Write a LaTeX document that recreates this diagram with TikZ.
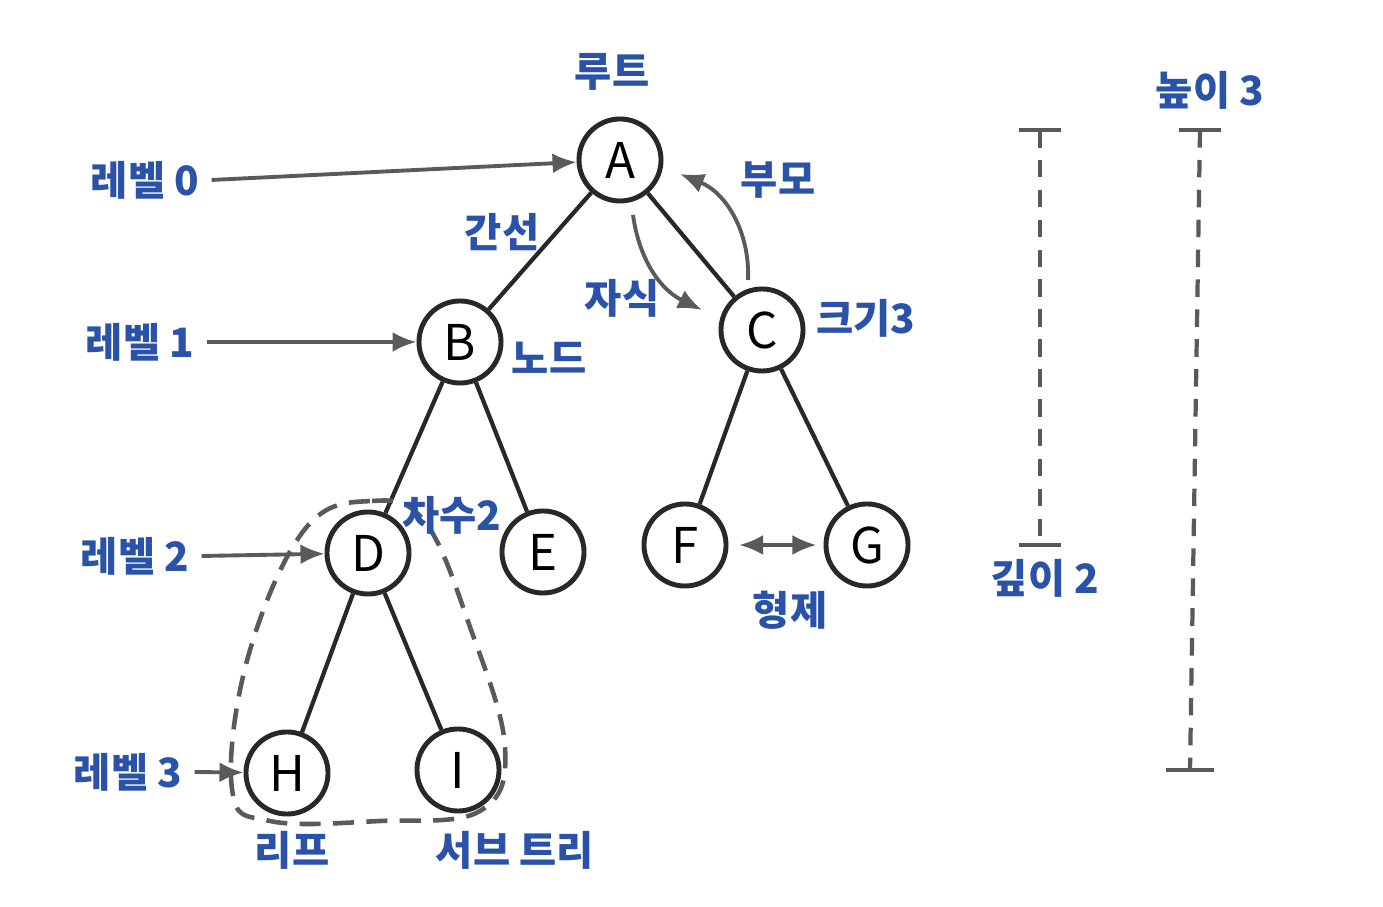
\documentclass[tikz,border=0pt]{standalone}
\usepackage{fontspec}
\setmainfont{Noto Sans CJK KR}
\usetikzlibrary{arrows.meta}
\definecolor{pen}{RGB}{40,40,40}
\definecolor{penblue}{RGB}{42,82,168}
\definecolor{markgray}{RGB}{90,90,90}

\begin{document}
\begin{tikzpicture}[
  x=0.01cm, y=0.01cm,
  vert/.style={draw=pen, fill=white, circle, line width=1.4pt, minimum size=0.82cm, inner sep=0pt,
               font=\fontsize{14}{16}\selectfont},
  lbl/.style={text=penblue, font=\fontsize{11.5}{14}\selectfont\bfseries},
  link/.style={draw=pen, line width=1.2pt},
  arr/.style={-{Latex[length=2.4mm, width=2mm]}, draw=markgray, line width=1.1pt},
  ruler/.style={draw=markgray, line width=1.2pt, dash pattern=on 5pt off 3.5pt},
  tee/.style={draw=markgray, line width=1.4pt}
]
\useasboundingbox (0,0) rectangle (1383,907);

% tree nodes
\node[vert] (A) at (620,747) {A};
\node[vert] (B) at (460,565) {B};
\node[vert] (C) at (762,577) {C};
\node[vert] (D) at (368,354) {D};
\node[vert] (E) at (543,355) {E};
\node[vert] (F) at (685,362) {F};
\node[vert] (G) at (867,362) {G};
\node[vert] (H) at (287,134) {H};
\node[vert] (I) at (458,137) {I};

\draw[link] (A) -- (B);
\draw[link] (A) -- (C);
\draw[link] (B) -- (D);
\draw[link] (B) -- (E);
\draw[link] (C) -- (F);
\draw[link] (C) -- (G);
\draw[link] (D) -- (H);
\draw[link] (D) -- (I);

% subtree outline
\draw[markgray, line width=1.3pt, dash pattern=on 6pt off 3.5pt]
  plot[smooth cycle, tension=0.65] coordinates {
    (305,378) (372,406) (425,385) (470,280) (505,160) (480,96)
    (380,86) (270,86) (232,118) (248,250)};

% labels
\node[lbl] (root) at (612,835) {루트};
\node[lbl] (lv0) at (145,727) {레벨 0};
\node[lbl] (lv1) at (140,565) {레벨 1};
\node[lbl] (lv2) at (135,351) {레벨 2};
\node[lbl] (lv3) at (128,135) {레벨 3};
\node[lbl] (edgelbl) at (502,675) {간선};
\node[lbl] (child) at (622,609) {자식};
\node[lbl] (parent) at (778,727) {부모};
\node[lbl] (size) at (866,589) {크기3};
\node[lbl] (nodelbl) at (549,549) {노드};
\node[lbl] (degree) at (452,392) {차수2};
\node[lbl] (sibling) at (790,297) {형제};
\node[lbl] (leaf) at (292,57) {리프};
\node[lbl] (subtree) at (515,57) {서브 트리};
\node[lbl] (depth) at (1045,329) {깊이 2};
\node[lbl] (height) at (1210,817) {높이 3};

% level arrows
\draw[arr] (lv0.east) -- (A);
\draw[arr] (lv1.east) -- (B);
\draw[arr] (lv2.east) -- (D);
\draw[arr] (lv3.east) -- (H);

% parent / child arrows
\coordinate (ch1) at (633,692);
\coordinate (ch2) at (702,597);
\coordinate (pa1) at (748,627);
\coordinate (pa2) at (680,733);
\draw[arr] (ch1) to[bend right=28] (ch2);
\draw[arr] (pa1) to[bend right=35] (pa2);

% siblings
\draw[arr, {Latex[length=2.4mm, width=2mm]}-{Latex[length=2.4mm, width=2mm]}, shorten <=3pt, shorten >=2pt] (F) -- (G);

% depth and height rulers
\coordinate (dtop) at (1040,777);
\coordinate (dbot) at (1040,362);
\coordinate (htop) at (1200,777);
\coordinate (hbot) at (1190,137);
\draw[ruler] (dtop) -- (dbot);
\draw[ruler] (htop) -- (hbot);
\draw[tee] (dtop) ++(-21,0) -- ++(42,0);
\draw[tee] (dbot) ++(-21,0) -- ++(42,0);
\draw[tee] (htop) ++(-21,0) -- ++(42,0);
\draw[tee] (hbot) ++(-24,0) -- ++(48,0);
\end{tikzpicture}
\end{document}
